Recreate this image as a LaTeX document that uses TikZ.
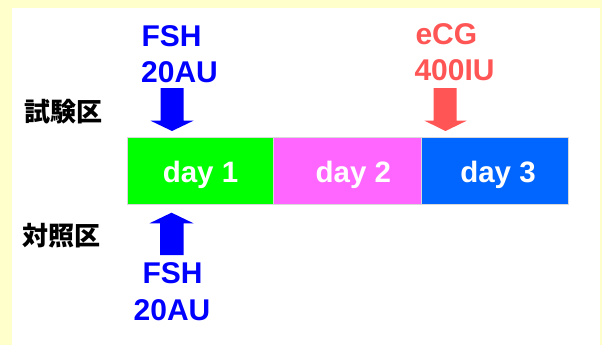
\documentclass[tikz,border=0pt]{standalone}
\usepackage{fontspec}
\setmainfont{Liberation Sans}
\newfontfamily\jpfont{Noto Sans CJK JP}
\definecolor{paper}{HTML}{FFFFCC}
\definecolor{fshblue}{HTML}{0000FF}
\definecolor{ecgred}{HTML}{FF5555}
\definecolor{dayone}{HTML}{00FF00}
\definecolor{daytwo}{HTML}{FF66FF}
\definecolor{daythree}{HTML}{0066FF}
\tikzset{
  daybox/.style={draw=black!15, line width=0.6pt},
  daylabel/.style={anchor=base, inner sep=0pt, text=white, font=\fontsize{29.5}{29.5}\selectfont\bfseries},
  dose/.style={inner sep=0pt, font=\fontsize{30}{30}\selectfont\bfseries},
  grouplabel/.style={anchor=base west, inner sep=0pt, font=\jpfont\fontsize{26}{26}\selectfont\bfseries},
}
\begin{document}
\begin{tikzpicture}[x=1pt, y=-1pt]
  % page and white panel
  \fill[paper] (0,0) rectangle (602,345);
  \fill[white] (12,8) rectangle (600,345);
  \useasboundingbox (0,0) rectangle (602,345);

  % the three days
  \filldraw[daybox, fill=dayone]   (127.3,137.3) rectangle (273.3,204);
  \filldraw[daybox, fill=daytwo]   (273.3,137.3) rectangle (421,204);
  \filldraw[daybox, fill=daythree] (421,137.3)   rectangle (568.3,204);
  \node[daylabel] (d1) at (200.5,182.7) {day 1};
  \node[daylabel] (d2) at (353.3,182.7) {day 2};
  \node[daylabel] (d3) at (498,182.7)   {day 3};

  % group labels
  \node[grouplabel] (test) at (24.5,121) {試験区};
  \node[grouplabel] (ctrl) at (22.5,245) {対照区};

  % FSH dose on day 1, test group
  \node[dose, anchor=base west, text=fshblue] (fsht1) at (141.3,46.5) {FSH};
  \node[dose, anchor=base west, text=fshblue] (fsht2) at (141,82.5) {20AU};
  \fill[fshblue] (160.5,88) -- (183.5,88) -- (183.5,120.7) -- (193.5,120.7)
    -- (172,131) -- (150.5,120.7) -- (160.5,120.7) -- cycle;

  % eCG dose on day 3
  \node[dose, anchor=base west, text=ecgred] (ecg1) at (415.3,44.5) {eCG};
  \node[dose, anchor=base west, text=ecgred] (ecg2) at (414.3,80.5) {400IU};
  \fill[ecgred] (433.5,88) -- (456.5,88) -- (456.5,120.7) -- (466.7,120.7)
    -- (445.5,131) -- (424.5,120.7) -- (433.5,120.7) -- cycle;

  % FSH dose on day 1, control group
  \fill[fshblue] (160,255) -- (183.5,255) -- (183.5,223.3) -- (193.5,223.3)
    -- (171.5,212.7) -- (149.5,223.3) -- (160,223.3) -- cycle;
  \node[dose, anchor=base, text=fshblue] (fshc1) at (172.5,283.5) {FSH};
  \node[dose, anchor=base, text=fshblue] (fshc2) at (172,320) {20AU};
\end{tikzpicture}
\end{document}
